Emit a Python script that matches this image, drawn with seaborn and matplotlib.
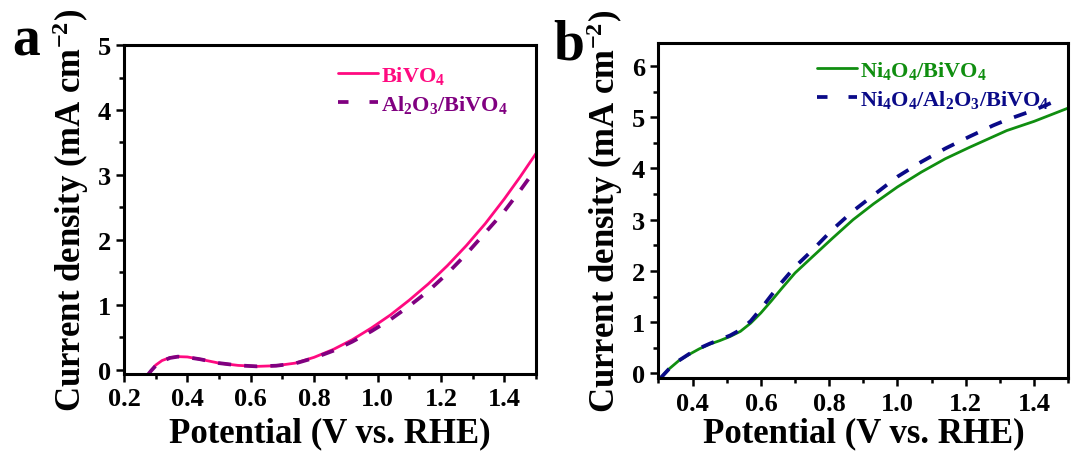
import matplotlib
matplotlib.use("Agg")
import matplotlib.pyplot as plt
from matplotlib.lines import Line2D
from matplotlib.ticker import MultipleLocator, FixedLocator, FormatStrFormatter
import pandas as pd
import seaborn as sns

# ---- (a) bare vs. Al2O3-coated BiVO4 ----
pot_a = [0.272, 0.285, 0.30, 0.32, 0.345, 0.37, 0.40, 0.44, 0.50, 0.56, 0.62, 0.68,
         0.74, 0.80, 0.86, 0.92, 0.98, 1.04, 1.10, 1.16, 1.22, 1.28, 1.34, 1.40, 1.45, 1.50]
j_bivo4 = [-0.10, -0.02, 0.07, 0.14, 0.185, 0.20, 0.195, 0.16, 0.10, 0.065, 0.05, 0.06,
           0.10, 0.19, 0.31, 0.46, 0.64, 0.84, 1.07, 1.32, 1.60, 1.91, 2.25, 2.63, 2.97, 3.33]
pot_a_al = [0.272, 0.285, 0.30, 0.32, 0.345, 0.37, 0.40, 0.44, 0.50, 0.56, 0.62, 0.68,
            0.74, 0.80, 0.86, 0.92, 0.98, 1.04, 1.10, 1.16, 1.22, 1.28, 1.34, 1.40, 1.45, 1.49]
j_al_bivo4 = [-0.10, -0.02, 0.06, 0.13, 0.18, 0.20, 0.19, 0.16, 0.10, 0.065, 0.05, 0.06,
              0.095, 0.18, 0.29, 0.43, 0.59, 0.77, 0.98, 1.21, 1.48, 1.78, 2.11, 2.44, 2.76, 3.03]

# ---- (b) Ni4O4-modified electrodes ----
pot_b = [0.305, 0.33, 0.36, 0.39, 0.42, 0.45, 0.48, 0.51, 0.54, 0.57, 0.60, 0.63, 0.66,
         0.70, 0.75, 0.81, 0.87, 0.93, 1.00, 1.07, 1.14, 1.21, 1.28, 1.32, 1.40, 1.45, 1.50]
j_ni = [-0.10, 0.08, 0.25, 0.37, 0.48, 0.57, 0.64, 0.72, 0.82, 0.98, 1.18, 1.41, 1.65,
        1.96, 2.27, 2.64, 3.00, 3.31, 3.64, 3.93, 4.19, 4.41, 4.62, 4.74, 4.92, 5.05, 5.18]
pot_b_al = [0.305, 0.33, 0.36, 0.39, 0.42, 0.45, 0.48, 0.51, 0.54, 0.57, 0.60, 0.63, 0.66,
            0.70, 0.75, 0.81, 0.87, 0.93, 1.00, 1.07, 1.14, 1.21, 1.28, 1.32, 1.40, 1.45, 1.48]
j_ni_al = [-0.10, 0.08, 0.25, 0.38, 0.49, 0.58, 0.66, 0.74, 0.85, 1.02, 1.26, 1.52, 1.77,
           2.08, 2.40, 2.81, 3.17, 3.48, 3.84, 4.13, 4.39, 4.62, 4.84, 4.95, 5.14, 5.28, 5.42]

labels_a = ["BiVO$_4$", "Al$_2$O$_3$/BiVO$_4$"]
labels_b = ["Ni$_4$O$_4$/BiVO$_4$", "Ni$_4$O$_4$/Al$_2$O$_3$/BiVO$_4$"]
colors_a = ["#FF0A80", "#800080"]
colors_b = ["#108E10", "#0A0A88"]

sns.set_style("ticks")
plt.rcParams.update({
    "font.family": ["Liberation Serif", "DejaVu Serif"],
    "font.weight": "bold",
    "axes.labelweight": "bold",
    "mathtext.fontset": "custom",
    "mathtext.rm": "Liberation Serif:bold",
    "mathtext.it": "Liberation Serif:bold",
    "mathtext.bf": "Liberation Serif:bold",
    "mathtext.default": "rm",
    "axes.linewidth": 2.2,
    "text.color": "black",
    "axes.labelcolor": "black",
    "axes.edgecolor": "black",
    "xtick.color": "black",
    "ytick.color": "black",
})

fig = plt.figure(figsize=(10.72, 4.52), dpi=100)
ax_a = fig.add_axes([0.1157, 0.170, 0.3843, 0.728])
ax_b = fig.add_axes([0.6142, 0.1604, 0.3823, 0.7423])

dash_plot = (0, (3.5, 3.5))
dash_leg = (0, (2.8, 5.6))


def draw(ax, x, y, color, lw, ls):
    df = pd.DataFrame({"x": x, "y": y})
    sns.lineplot(data=df, x="x", y="y", ax=ax, color=color, lw=lw,
                 linestyle=ls, sort=False, estimator=None)


draw(ax_a, pot_a, j_bivo4, colors_a[0], 2.0, "-")
draw(ax_a, pot_a_al, j_al_bivo4, colors_a[1], 2.7, dash_plot)
draw(ax_b, pot_b, j_ni, colors_b[0], 2.0, "-")
draw(ax_b, pot_b_al, j_ni_al, colors_b[1], 2.7, dash_plot)


def style_axes(ax, xlim, ylim, xmajor, xminor, xpad):
    ax.set_xlim(*xlim)
    ax.set_ylim(*ylim)
    ax.xaxis.set_major_locator(xmajor)
    ax.xaxis.set_minor_locator(xminor)
    ax.yaxis.set_major_locator(MultipleLocator(1))
    ax.yaxis.set_minor_locator(MultipleLocator(0.5))
    ax.xaxis.set_major_formatter(FormatStrFormatter("%.1f"))
    ax.yaxis.set_major_formatter(FormatStrFormatter("%d"))
    for s in ax.spines.values():
        s.set_visible(True)
        s.set_linewidth(2.2)
        s.set_color("black")
    ax.tick_params(which="major", direction="out", length=5.5, width=1.8,
                   labelsize=19, pad=4, top=False, right=False)
    ax.tick_params(which="minor", direction="out", length=3.5, width=1.8,
                   top=False, right=False)
    for t in ax.get_xticklabels() + ax.get_yticklabels():
        t.set_fontweight("bold")
    ax.set_xlabel("Potential (V vs. RHE)", fontsize=25, fontweight="bold", labelpad=xpad)
    ax.set_ylabel("Current density (mA cm$^{-2}$)", fontsize=25, fontweight="bold",
                  labelpad=5)


style_axes(ax_a, (0.2, 1.5), (-0.07, 5.0), MultipleLocator(0.2), MultipleLocator(0.1), 4)
style_axes(ax_b, (0.3, 1.5), (-0.1, 6.45),
           FixedLocator([0.4, 0.6, 0.8, 1.0, 1.2, 1.4]),
           FixedLocator([0.3, 0.5, 0.7, 0.9, 1.1, 1.3, 1.5]), 1)


def add_legend(ax, labels, colors, anchor):
    handles = [Line2D([], [], color=colors[0], lw=2.0, ls="-"),
               Line2D([], [], color=colors[1], lw=2.7, ls=dash_leg)]
    leg = ax.legend(handles=handles, labels=labels, loc="upper left",
                    bbox_to_anchor=anchor, frameon=False, fontsize=16,
                    handlelength=1.8, handletextpad=0.12, labelspacing=0.3,
                    borderpad=0, borderaxespad=0, labelcolor="linecolor")
    for t in leg.get_texts():
        t.set_fontweight("bold")


add_legend(ax_a, labels_a, colors_a, (0.519, 0.942))
add_legend(ax_b, labels_b, colors_b, (0.388, 0.952))

fig.text(12 / 1072, 1 - 56 / 452, "a", fontsize=40, fontweight="bold", va="baseline")
fig.text(553 / 1072, 1 - 59 / 452, "b", fontsize=40, fontweight="bold", va="baseline")

fig.savefig("out.png", dpi=100)
